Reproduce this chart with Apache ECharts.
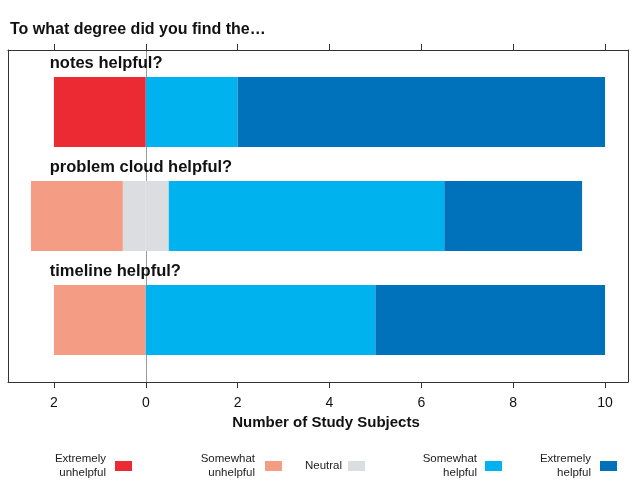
<!DOCTYPE html>
<html><head><meta charset="utf-8">
<script src="https://cdn.jsdelivr.net/npm/echarts@6/dist/echarts.min.js"></script>
<style>html,body{margin:0;padding:0;background:#fff}#c{width:634px;height:499px}</style>
</head><body><div id="c"></div>
<script>
// ---- data ----
const categories = ['notes helpful?', 'problem cloud helpful?', 'timeline helpful?'];
const extremelyUnhelpful = [2, 0, 0];
const somewhatUnhelpful = [0, 2, 2];
const neutral = [0, 1, 0];
const somewhatHelpful = [2, 6, 5];
const extremelyHelpful = [8, 3, 5];
const tickValues = [-2, 0, 2, 4, 6, 8, 10];
const seriesNames = ['Extremely unhelpful', 'Somewhat unhelpful', 'Neutral', 'Somewhat helpful', 'Extremely helpful'];
const colors = ['#EC2A33', '#F59D84', '#DCDDE1', '#00B2EE', '#0072BB'];

// ---- layout ----
const FONT = '"Liberation Sans", Arial, Helvetica, sans-serif';
const X_MIN = -3, X_MAX = 10.5;
const GL = 8, GR = 6;
const LABEL_X = -2.09;

const chart = echarts.init(document.getElementById('c'), null, {renderer: 'canvas'});

function bar(name, data, color) {
  return {
    name, type: 'bar', stack: 'all', xAxisIndex: 0, yAxisIndex: 0,
    data, barWidth: 70, itemStyle: {color}, emphasis: {disabled: true}, zlevel: 1, z: 2
  };
}

const legendPos = [
  {right: 502, top: 452, pad: 4},
  {right: 352, top: 452, pad: 5},
  {right: 269, top: 459, pad: 1},
  {right: 132, top: 452, pad: 3},
  {right: 17, top: 452, pad: 4}
];

const option = {
  animation: false,
  backgroundColor: '#fff',
  title: {
    text: 'To what degree did you find the…', left: 10, top: 22, padding: 0,
    textStyle: {fontFamily: FONT, fontWeight: 'bold', fontSize: 16, color: '#111'}
  },
  legend: seriesNames.map((n, i) => ({
    data: [n], align: 'right', orient: 'horizontal', padding: 0,
    right: legendPos[i].right, top: legendPos[i].top,
    itemWidth: 17, itemHeight: 10, icon: 'rect', selectedMode: false,
    formatter: nm => nm.replace(' ', '\n'),
    textStyle: {fontFamily: FONT, fontSize: 11.5, lineHeight: 14, color: '#222',
      padding: [0, legendPos[i].pad, 0, 0]}
  })),
  grid: [
    {left: GL, right: GR, top: 60, height: 312},
    {left: GL, right: GR, top: 50, height: 332}
  ],
  xAxis: [
    {gridIndex: 0, type: 'value', min: X_MIN, max: X_MAX, show: false},
    {gridIndex: 1, type: 'value', min: X_MIN, max: X_MAX, position: 'bottom',
      axisLine: {show: true, onZero: false, lineStyle: {color: '#333', width: 1}},
      axisTick: {show: true, inside: false, length: 6, customValues: tickValues, lineStyle: {color: '#333'}},
      axisLabel: {show: true, customValues: tickValues, formatter: v => String(Math.abs(v)),
        fontFamily: FONT, fontSize: 14, color: '#111', margin: 14},
      splitLine: {show: false},
      name: 'Number of Study Subjects', nameLocation: 'middle', nameGap: 31,
      nameTextStyle: {fontFamily: FONT, fontWeight: 'bold', fontSize: 15, color: '#111', padding: [0, 0, 0, 16]}
    },
    {gridIndex: 1, type: 'value', min: X_MIN, max: X_MAX, position: 'top',
      axisLine: {show: true, onZero: false, lineStyle: {color: '#333', width: 1}},
      axisTick: {show: true, inside: false, length: 6, customValues: tickValues, lineStyle: {color: '#333'}},
      axisLabel: {show: false}, splitLine: {show: false}
    }
  ],
  yAxis: [
    {gridIndex: 0, type: 'category', data: categories, inverse: true, show: false},
    {gridIndex: 1, type: 'value', min: 0, max: 1, position: 'left',
      axisLine: {show: true, onZero: false, lineStyle: {color: '#333'}},
      axisTick: {show: false}, axisLabel: {show: false}, splitLine: {show: false}},
    {gridIndex: 1, type: 'value', min: 0, max: 1, position: 'right',
      axisLine: {show: true, onZero: false, lineStyle: {color: '#333'}},
      axisTick: {show: false}, axisLabel: {show: false}, splitLine: {show: false}},
    {gridIndex: 1, type: 'value', min: 0, max: 1, position: 'left',
      axisLine: {show: true, onZero: true, lineStyle: {color: '#9a9a9a'}},
      axisTick: {show: false}, axisLabel: {show: false}, splitLine: {show: false}}
  ],
  series: [
    bar('Neutral', neutral.map(v => -v / 2), colors[2]),
    bar('Somewhat unhelpful', somewhatUnhelpful.map(v => -v), colors[1]),
    bar('Extremely unhelpful', extremelyUnhelpful.map(v => -v), colors[0]),
    bar('Neutral', neutral.map(v => v / 2), colors[2]),
    bar('Somewhat helpful', somewhatHelpful, colors[3]),
    bar('Extremely helpful', extremelyHelpful, colors[4])
  ]
};
chart.setOption(option);

const graphics = categories.map((c, i) => {
  const p = chart.convertToPixel({xAxisIndex: 0, yAxisIndex: 0}, [LABEL_X, i]);
  return {
    type: 'text', x: p[0], y: p[1] - 48.5, z: 30,
    style: {text: c, fontFamily: FONT, fontWeight: 'bold', fontSize: 16.5, fill: '#111',
      align: 'left', verticalAlign: 'middle'}
  };
});
chart.setOption({graphic: graphics});
</script>
</body></html>
